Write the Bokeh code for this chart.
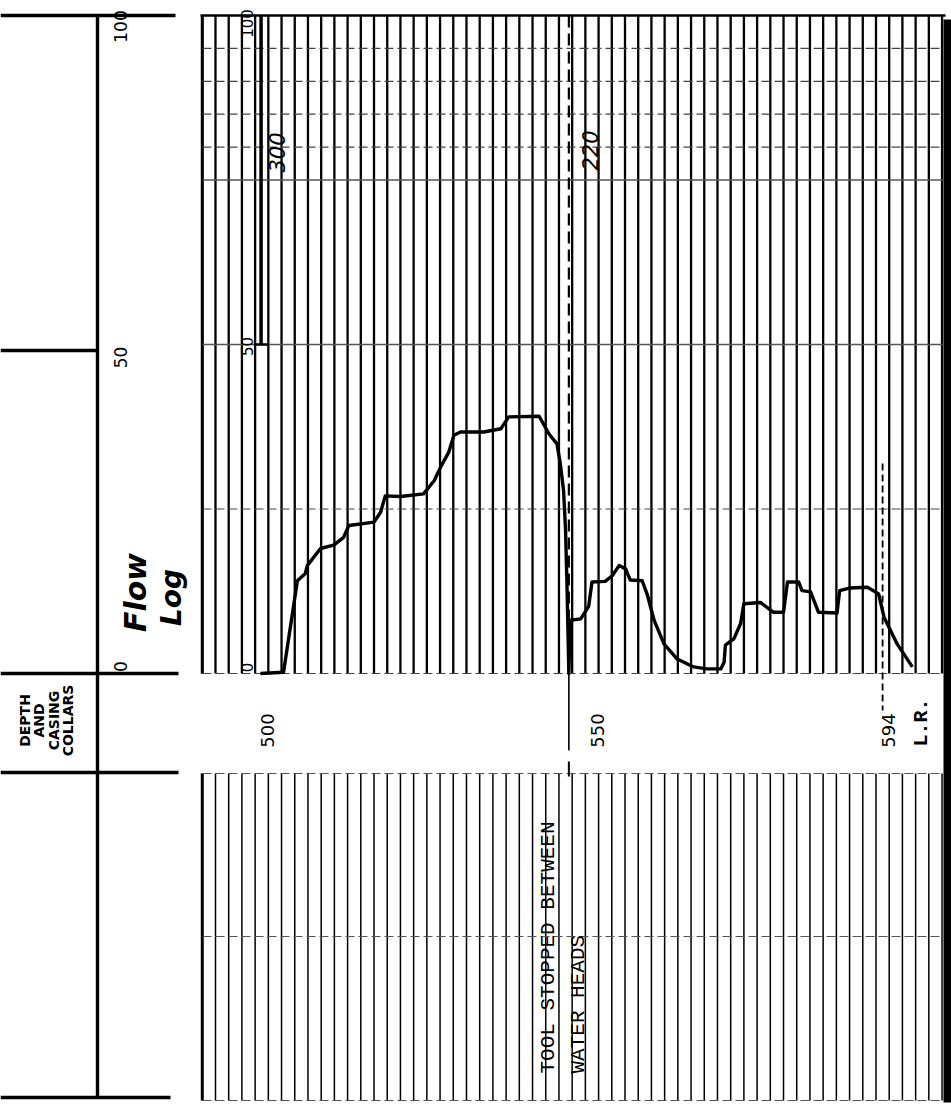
import math
import numpy as np
from bokeh.plotting import figure
from bokeh.models import Range1d, Label
from bokeh.core.properties import value
from bokeh.embed import file_html
from bokeh.resources import INLINE

# ---------------- data (read from the log) ----------------
# flow-log trace: depth (ft) vs. flow deflection (chart scale 0-100)
depth = [499.8, 503.3, 505.4, 506.6, 506.9, 508.9, 510.9, 512.4, 513.2, 517.0,
         518.0, 518.7, 521.0, 524.5, 526.1, 527.1, 528.3, 529.1, 530.1, 533.6,
         536.2, 537.4, 542.0, 543.5, 544.7, 545.2, 545.7, 546.0, 546.2, 546.5,
         546.7, 548.3, 549.5, 550.0, 552.0, 553.1, 554.1, 555.1, 555.8, 557.6,
         558.4, 559.4, 560.9, 562.9, 565.4, 567.4, 569.5, 570.0, 570.2, 571.5,
         572.5, 573.0, 575.5, 577.5, 579.0, 579.6, 581.3, 581.8, 583.1, 584.3,
         587.1, 587.5, 589.1, 591.7, 593.4, 594.2, 596.2, 598.5]
flow = [0.0, 0.2, 14.1, 15.2, 16.4, 19.0, 19.5, 20.7, 22.5, 23.0,
        24.5, 27.0, 26.9, 27.3, 29.3, 31.4, 33.6, 36.2, 36.7, 36.7,
        37.2, 39.0, 39.1, 36.4, 34.9, 31.9, 27.8, 21.8, 14.1, 0.0,
        8.1, 8.3, 10.2, 13.9, 14.0, 14.9, 16.4, 15.9, 14.2, 14.1,
        11.9, 8.1, 4.5, 2.2, 1.0, 0.7, 0.7, 1.7, 4.3, 5.3,
        7.6, 10.6, 10.8, 9.3, 9.3, 13.9, 13.9, 12.6, 12.4, 9.3,
        9.2, 12.6, 13.0, 13.1, 12.1, 8.6, 4.5, 1.0]

depth_ticks = [500, 550, 594]
depth_tick_labels = ["500", "550", "594"]
scale_ticks = [0, 50, 100]
scale_tick_labels = ["0", "50", "100"]
tool_stop_depth = 546.5
lr_depth = 594
calib_depth = 499.9
hand_notes = ["300", "220"]

# ---------------- page geometry ----------------
W, H = 951, 1108
PX_PER_FT = 6.605
PX_PER_UNIT = 6.58
X0 = 460.45   # depth at page left edge
Y0 = 102.28   # scale value at page top edge


def dx(px):
    return X0 + px / PX_PER_FT


def dy(py):
    return Y0 - py / PX_PER_UNIT


p = figure(width=W, height=H, x_range=Range1d(dx(0), dx(W)),
           y_range=Range1d(dy(H), dy(0)), output_backend="svg",
           toolbar_location=None, min_border=0,
           x_axis_location=None, y_axis_location=None)
p.grid.visible = False
p.outline_line_color = None
p.background_fill_color = "white"
p.border_fill_color = "white"

BLACK = "#000000"

# ---------------- track grids ----------------
grid_depths = np.arange(491, 604, 2)
# upper (flow) track verticals
p.segment(x0=grid_depths, y0=0, x1=grid_depths, y1=100, line_color=BLACK, line_width=2.3)
# lower track verticals
p.segment(x0=grid_depths, y0=dy(773), x1=grid_depths, y1=dy(1100), line_color=BLACK, line_width=1.5)
# left borders
p.segment(x0=[491, 491], y0=[0, dy(1100)], x1=[491, 491], y1=[100, dy(773)], line_color=BLACK, line_width=3)

# horizontal lines of the flow track
minor = [95, 90, 85, 80, 25, 0]
major = [75, 50]
p.segment(x0=dx(202), y0=minor, x1=dx(943), y1=minor, line_color="#444444", line_width=1.2, line_dash="9 4")
p.segment(x0=dx(202), y0=major, x1=dx(943), y1=major, line_color="#555555", line_width=1.3)
p.segment(x0=[dx(200)], y0=[100], x1=[dx(945)], y1=[100], line_color=BLACK, line_width=2.6)

# horizontal lines of the lower track
low_h = [dy(773), dy(936), dy(1100)]
p.segment(x0=dx(202), y0=low_h, x1=dx(943), y1=low_h, line_color="#555555", line_width=1.0, line_dash="9 4")

# right edge bar
p.quad(left=dx(943), right=dx(951), top=dy(19), bottom=dy(1102), fill_color=BLACK, line_color=None)

# calibration mark
p.segment(x0=[calib_depth], y0=[100], x1=[calib_depth], y1=[50], line_color=BLACK, line_width=3.5)
p.segment(x0=[calib_depth - 1.1], y0=[50], x1=[calib_depth + 1.2], y1=[50], line_color=BLACK, line_width=2.5)

# tool stop line (dashed in track, solid across depth column)
p.segment(x0=[tool_stop_depth], y0=[100], x1=[tool_stop_depth], y1=[0], line_color=BLACK, line_width=2.2, line_dash="12 6")
p.segment(x0=[tool_stop_depth], y0=[0], x1=[tool_stop_depth], y1=[dy(750)], line_color=BLACK, line_width=1.6)
p.segment(x0=[tool_stop_depth], y0=[dy(761)], x1=[tool_stop_depth], y1=[dy(776)], line_color=BLACK, line_width=2)

# L.R. dashed line
p.segment(x0=[lr_depth], y0=[dy(463)], x1=[lr_depth], y1=[dy(710)], line_color=BLACK, line_width=1.8, line_dash="7 4")

# ---------------- the flow curve ----------------
p.line(depth, flow, line_color=BLACK, line_width=3.4, line_join="round")

# ---------------- header column ----------------
hx0 = [0, 97, 0, 0, 0, 0]
hy0 = [15, 15, 350, 673, 772, 1097]
hx1 = [175, 97, 97, 178, 178, 170]
hy1 = [15, 1098, 350, 673, 772, 1097]
p.segment(x0=[dx(v) for v in hx0], y0=[dy(v) for v in hy0],
          x1=[dx(v) for v in hx1], y1=[dy(v) for v in hy1],
          line_color=BLACK, line_width=3.4)

ROT = math.pi / 2

# header scale labels
header_off = {100: 11, 50: 13, 0: -7}
for v, t in zip(scale_ticks, scale_tick_labels):
    p.add_layout(Label(x=dx(120), y=v, text=t, angle=ROT, text_align="center",
                       text_baseline="middle", y_offset=-header_off[v],
                       text_font="DejaVu Sans", text_font_size="17px", text_color=BLACK))

# in-track scale labels
track_off = {100: 8, 50: 2, 0: -6}
for v, t in zip(scale_ticks, scale_tick_labels):
    p.add_layout(Label(x=dx(246), y=v, text=t, angle=ROT, text_align="center",
                       text_baseline="middle", y_offset=-track_off[v],
                       text_font="DejaVu Sans", text_font_size="15px", text_color=BLACK))

# handwritten title
p.add_layout(Label(x=dx(135), y=dy(592), text="Flow", angle=ROT, text_align="center",
                   text_baseline="middle", text_font="DejaVu Sans", text_font_style="bold italic",
                   text_font_size="30px", text_color=BLACK))
p.add_layout(Label(x=dx(171), y=dy(597), text="Log", angle=ROT, text_align="center",
                   text_baseline="middle", text_font="DejaVu Sans", text_font_style="bold italic",
                   text_font_size="28px", text_color=BLACK))

for t, xp in zip(["DEPTH", "AND", "CASING", "COLLARS"], [24, 38, 53, 67]):
    p.add_layout(Label(x=dx(xp), y=dy(720), text=t, angle=ROT, text_align="center",
                       text_baseline="middle", text_font="DejaVu Sans", text_font_style="bold",
                       text_font_size="14px", text_color=BLACK))

# handwritten notes on the track
for t, xp, yp in zip(hand_notes, [276, 589], [152, 150]):
    p.add_layout(Label(x=dx(xp), y=dy(yp), text=t, angle=ROT, text_align="center",
                       text_baseline="middle", text_font="DejaVu Sans", text_font_style="italic",
                       text_font_size="21px", text_color=BLACK))

# depth labels
p.text(x=depth_ticks, y=dy(730), text=depth_tick_labels, angle=ROT, x_offset=6,
       text_align="center", text_baseline="middle", text_font=value("DejaVu Sans"),
       text_font_size="18px", text_color=BLACK)
p.add_layout(Label(x=dx(921), y=dy(722), text="L.R.", angle=ROT, text_align="center",
                   text_baseline="middle", text_font="Liberation Mono", text_font_style="bold",
                   text_font_size="20px", text_color=BLACK))

# remarks in lower track
p.add_layout(Label(x=dx(548), y=dy(1073), text="TOOL STOPPED BETWEEN", angle=ROT, text_align="left",
                   text_baseline="middle", text_font="Liberation Mono",
                   text_font_size="21px", text_color=BLACK))
p.add_layout(Label(x=dx(578), y=dy(1073), text="WATER HEADS", angle=ROT, text_align="left",
                   text_baseline="middle", text_font="Liberation Mono",
                   text_font_size="21px", text_color=BLACK))

open("out.html", "w").write(file_html(p, INLINE))
